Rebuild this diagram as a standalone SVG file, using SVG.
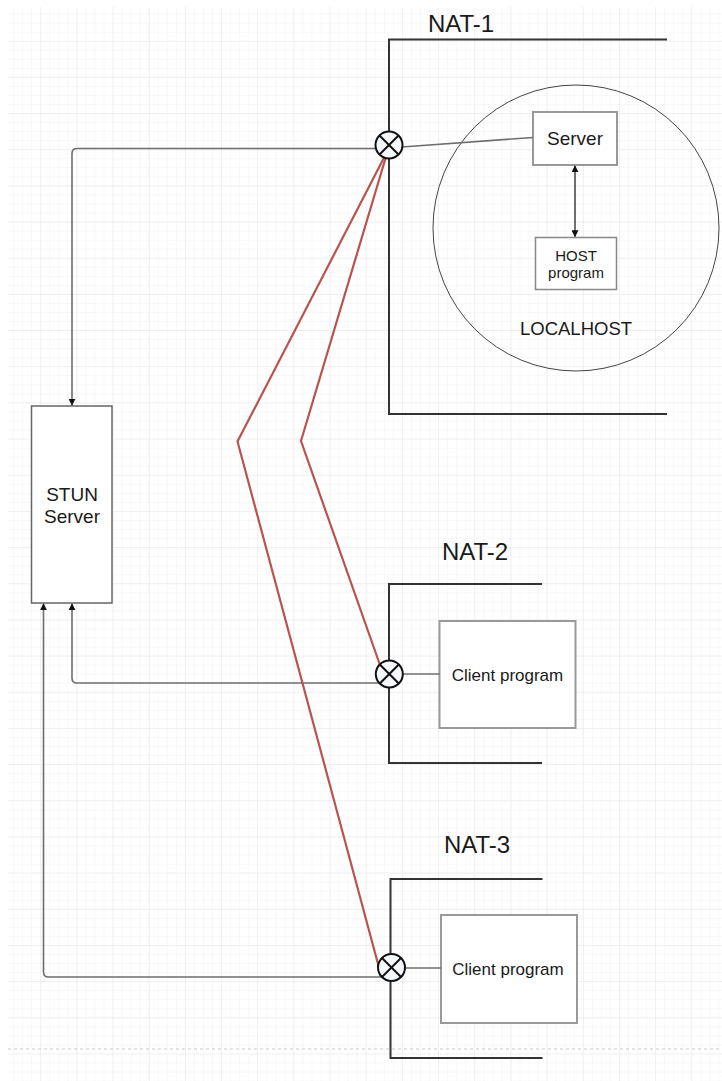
<svg xmlns="http://www.w3.org/2000/svg" width="722" height="1081" viewBox="0 0 722 1081">
<style>
  .lbl { font-family: "Liberation Sans", Arial, sans-serif; fill: #1a1a1a; text-anchor: middle; }
  .nat { font-size: 24px; }
  .bracket { fill: none; stroke: #333; stroke-width: 2; }
  .box { fill: #fff; stroke: #999; stroke-width: 2; }
  .conn { fill: none; stroke: #6e6e6e; stroke-width: 1.6; }
  .red { fill: none; stroke: #b85450; stroke-width: 2.2; stroke-linejoin: miter; }
  .mixer circle { fill: #f6f9fc; stroke: #111; stroke-width: 2; }
  .mixer line { stroke: #111; stroke-width: 2; }
</style>
<defs>
  <pattern id="minor" patternUnits="userSpaceOnUse" x="5" y="5.5" width="9.0425" height="9.0425">
    <path d="M9.0425 0 V9.0425 M0 9.0425 H9.0425" stroke="#f2f2f2" stroke-width="1" fill="none"/>
  </pattern>
  <pattern id="major" patternUnits="userSpaceOnUse" x="5" y="5.5" width="36.17" height="36.17">
    <path d="M36.17 0 V36.17 M0 36.17 H36.17" stroke="#e6e6e6" stroke-width="1" fill="none"/>
  </pattern>
  <marker id="arr" viewBox="0 0 10 10" refX="9" refY="5" markerWidth="7" markerHeight="7" orient="auto-start-reverse" markerUnits="userSpaceOnUse">
    <path d="M0 0 L10 5 L0 10 Z" fill="#111"/>
  </marker>
</defs>
<rect width="722" height="1081" fill="#fff"/>
<rect x="8" y="7" width="714" height="1074" fill="url(#minor)"/>
<rect x="8" y="7" width="714" height="1074" fill="url(#major)"/>
<line x1="8" y1="1049" x2="722" y2="1049" stroke="#c8c8c8" stroke-width="1" stroke-dasharray="3,3"/>

<g id="nat1">
  <path class="bracket" d="M667 39.5 H389 V414 H667"/>
  <text class="lbl nat" x="461" y="32">NAT-1</text>
</g>
<g id="localhost">
  <circle cx="576" cy="228" r="143" fill="none" stroke="#444" stroke-width="1"/>
  <text class="lbl" x="576" y="335" font-size="18.5">LOCALHOST</text>
</g>
<g id="server">
  <rect class="box" x="533" y="112" width="84" height="53"/>
  <text class="lbl" x="575" y="145" font-size="19">Server</text>
</g>
<g id="host">
  <rect x="535.5" y="237.5" width="81" height="52" fill="#fff" stroke="#888" stroke-width="1.5"/>
  <text class="lbl" x="576" y="261" font-size="15">HOST</text>
  <text class="lbl" x="576" y="278" font-size="15">program</text>
</g>
<g id="stun">
  <rect x="31.5" y="406" width="80.5" height="197" fill="#fff" stroke="#666" stroke-width="1.5"/>
  <text class="lbl" x="72" y="500.5" font-size="19">STUN</text>
  <text class="lbl" x="72" y="523" font-size="19">Server</text>
</g>
<g id="nat2">
  <path class="bracket" d="M542 584 H389 V763 H542"/>
  <text class="lbl nat" x="475" y="560">NAT-2</text>
</g>
<g id="client2">
  <rect class="box" x="439.5" y="621" width="136" height="107"/>
  <text class="lbl" x="507.5" y="681" font-size="17">Client program</text>
</g>
<g id="nat3">
  <path class="bracket" d="M542.5 879 H390.5 V1058 H542.5"/>
  <text class="lbl nat" x="477" y="853">NAT-3</text>
</g>
<g id="client3">
  <rect class="box" x="441" y="915" width="136" height="108"/>
  <text class="lbl" x="508" y="975" font-size="17">Client program</text>
</g>

<g id="connectors">
  <path class="conn" d="M376 148.5 H77 Q72 148.5 72 153.5 V405" marker-end="url(#arr)"/>
  <line class="conn" x1="402" y1="147" x2="533" y2="137.5"/>
  <line x1="575" y1="166" x2="575" y2="236.5" stroke="#222" stroke-width="1.3" marker-start="url(#arr)" marker-end="url(#arr)"/>
  <path class="conn" d="M380 683 H77 Q72 683 72 678 V604" marker-end="url(#arr)"/>
  <line class="conn" x1="403" y1="674" x2="439.5" y2="674"/>
  <path class="conn" d="M382 977 H48.5 Q43.5 977 43.5 972 V604" marker-end="url(#arr)"/>
  <line class="conn" x1="405" y1="968" x2="441" y2="968"/>
  <polyline class="red" points="388,150 301,441 380,665"/>
  <polyline class="red" points="388,150 237.5,441.5 381,975"/>
</g>

<g id="mixer1" class="mixer">
  <circle cx="389" cy="145" r="13.5"/>
  <line x1="379.5" y1="135.5" x2="398.5" y2="154.5"/>
  <line x1="398.5" y1="135.5" x2="379.5" y2="154.5"/>
</g>
<g id="mixer2" class="mixer">
  <circle cx="389.3" cy="674" r="13.5"/>
  <line x1="379.8" y1="664.5" x2="398.8" y2="683.5"/>
  <line x1="398.8" y1="664.5" x2="379.8" y2="683.5"/>
</g>
<g id="mixer3" class="mixer">
  <circle cx="391.5" cy="967.5" r="13.5"/>
  <line x1="382" y1="958" x2="401" y2="977"/>
  <line x1="401" y1="958" x2="382" y2="977"/>
</g>
</svg>
